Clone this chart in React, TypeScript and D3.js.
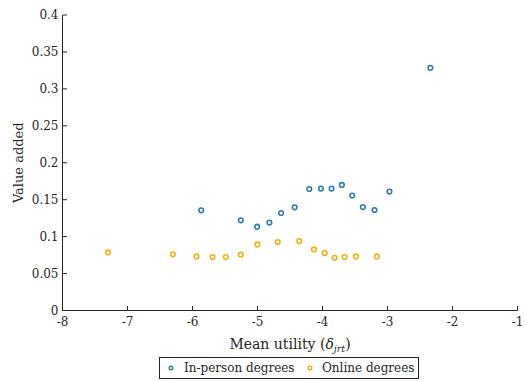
import React from "react";
import * as d3 from "d3";

const inPersonX = [-5.866, -5.257, -5.006, -4.817, -4.638, -4.428, -4.203, -4.024, -3.86, -3.702, -3.543, -3.379, -3.2, -2.97, -2.34];
const inPersonY = [0.1356, 0.122, 0.1135, 0.119, 0.132, 0.1397, 0.1645, 0.165, 0.165, 0.17, 0.1555, 0.14, 0.136, 0.161, 0.3286];
const onlineX = [-7.299, -6.301, -5.938, -5.692, -5.487, -5.257, -5.002, -4.689, -4.357, -4.131, -3.967, -3.814, -3.66, -3.487, -3.164];
const onlineY = [0.0786, 0.076, 0.0732, 0.0723, 0.0723, 0.0755, 0.0895, 0.0926, 0.094, 0.0827, 0.0777, 0.0714, 0.0723, 0.0732, 0.0732];
const xTicks = [-8, -7, -6, -5, -4, -3, -2, -1];
const yTicks = [0, 0.05, 0.1, 0.15, 0.2, 0.25, 0.3, 0.35, 0.4];
const seriesNames = ["In-person degrees", "Online degrees"];
const seriesColors = ["#2f7db0", "#f5b01a"];

const W = 526, H = 381;
const left = 62.5, right = 517.5, top = 15, bottom = 310.5;
const font = "DejaVu Serif, serif";
const axisColor = "#262626";

export default function App() {
  const x = d3.scaleLinear().domain([-8, -1]).range([left, right]);
  const y = d3.scaleLinear().domain([0, 0.4]).range([bottom, top]);
  const series = [
    { xs: inPersonX, ys: inPersonY, color: seriesColors[0] },
    { xs: onlineX, ys: onlineY, color: seriesColors[1] },
  ];
  return (
    <svg width={W} height={H} style={{ position: "absolute", left: 0, top: 0, background: "#fff", fontFamily: font }}>
      {/* axes */}
      <line x1={left} x2={left} y1={top} y2={bottom} stroke={axisColor} strokeWidth={1} />
      <line x1={left} x2={right} y1={bottom} y2={bottom} stroke={axisColor} strokeWidth={1} />
      {yTicks.map((t) => (
        <g key={"y" + t}>
          <line x1={left} x2={left + 4.5} y1={y(t)} y2={y(t)} stroke={axisColor} />
          <text x={left - 4} y={y(t)} dy="0.35em" textAnchor="end" fontSize={12} fill={axisColor}>
            {String(t)}
          </text>
        </g>
      ))}
      {xTicks.map((t) => (
        <g key={"x" + t}>
          <line x1={x(t)} x2={x(t)} y1={bottom} y2={bottom - 4.5} stroke={axisColor} />
          <text x={x(t)} y={bottom + 15} textAnchor="middle" fontSize={12} fill={axisColor}>
            {String(t)}
          </text>
        </g>
      ))}
      <text transform={`translate(23,${(top + bottom) / 2}) rotate(-90)`} textAnchor="middle" fontSize={13} fill={axisColor}>
        Value added
      </text>
      <text x={290} y={349} textAnchor="middle" fontSize={14} fill={axisColor}>
        Mean utility (<tspan fontStyle="italic">δ</tspan>
        <tspan fontStyle="italic" fontSize={9.5} dy={3}>jrt</tspan>
        <tspan dy={-3}>)</tspan>
      </text>
      {/* points */}
      {series.map((s, si) =>
        s.xs.map((xv, i) => (
          <circle key={si + "-" + i} cx={x(xv)} cy={y(s.ys[i])} r={2.3} fill="none" stroke={s.color} strokeWidth={1.6} />
        ))
      )}
      {/* legend */}
      <rect x={159.5} y={357.5} width={259} height={21} fill="#fff" stroke={axisColor} strokeWidth={1} />
      <circle cx={171} cy={368} r={1.8} fill="none" stroke={seriesColors[0]} strokeWidth={1.4} />
      <text x={184} y={368} dy="0.35em" fontSize={12} fill={axisColor}>{seriesNames[0]}</text>
      <circle cx={310} cy={368} r={1.8} fill="none" stroke={seriesColors[1]} strokeWidth={1.4} />
      <text x={322} y={368} dy="0.35em" fontSize={12} fill={axisColor}>{seriesNames[1]}</text>
    </svg>
  );
}
